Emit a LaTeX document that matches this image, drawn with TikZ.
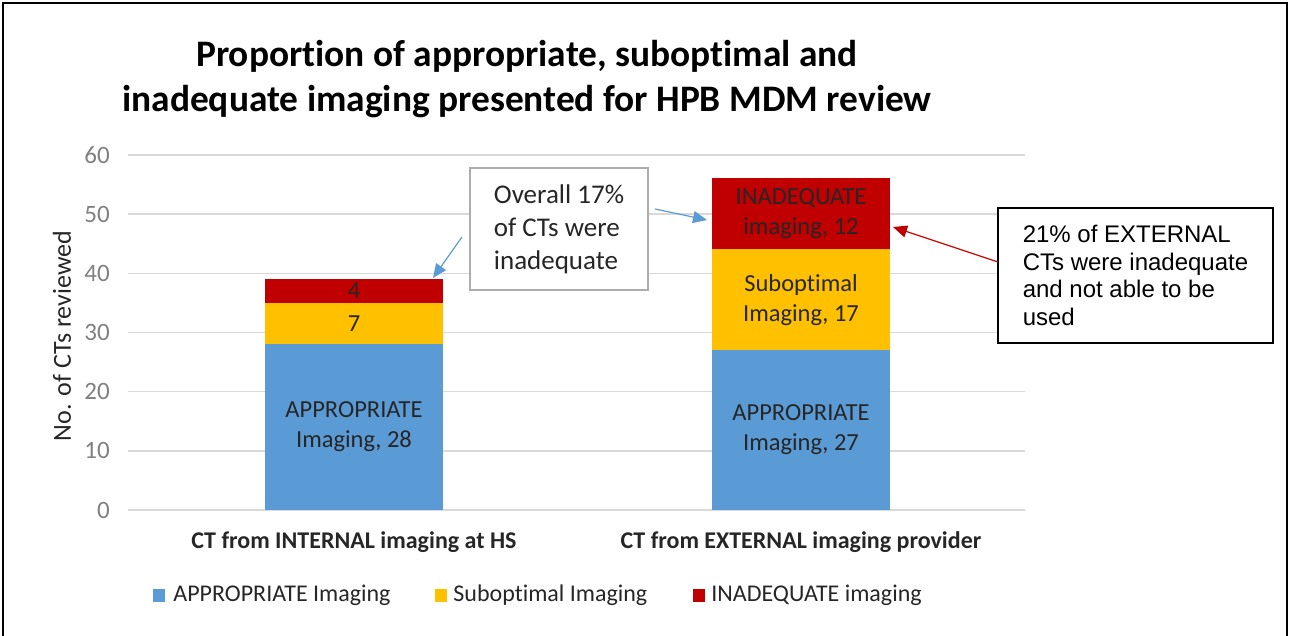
\documentclass[tikz,border=0pt]{standalone}
\usepackage{fontspec}
\setmainfont{Carlito}[Ligatures=NoCommon]
\newfontfamily\arialfont{Liberation Sans}
\usetikzlibrary{arrows.meta, positioning}
\definecolor{appBlue}{HTML}{5B9BD5}
\definecolor{subYellow}{HTML}{FFC000}
\definecolor{inaRed}{HTML}{C00000}
\definecolor{gridGray}{HTML}{D9D9D9}
\definecolor{tickGray}{HTML}{808080}
\definecolor{boxGray}{HTML}{ADADAD}
\definecolor{textDark}{HTML}{262626}
\tikzset{
    barSeg/.style={rectangle, inner sep=0pt, minimum width=178pt, anchor=south},
    segLabel/.style={font=\fontsize{24.5}{30}\selectfont, text=textDark, align=center, inner sep=0pt},
    gridLine/.style={gridGray, line width=1.4pt},
    tickLabel/.style={font=\fontsize{25}{28}\selectfont, text=tickGray, anchor=east, inner sep=0pt},
    catLabel/.style={font=\bfseries\fontsize{24}{28}\selectfont, text=textDark, inner sep=0pt},
    legKey/.style={rectangle, inner sep=0pt, minimum width=12pt, minimum height=13pt},
    legText/.style={font=\fontsize{24}{28}\selectfont, text=textDark, inner sep=0pt},
    noteGray/.style={draw=boxGray, line width=1.8pt, fill=white, minimum width=178pt, minimum height=122pt, align=left, font=\fontsize{27}{33}\selectfont, text=textDark},
    noteBlack/.style={draw=black, line width=1.2pt, fill=white, minimum width=275pt, minimum height=135pt, align=left, font=\arialfont\fontsize{24}{27.5}\selectfont},
    blueArrow/.style={-{Triangle[length=14pt, width=12pt]}, appBlue, line width=1.2pt},
    redArrow/.style={-{Triangle[length=14pt, width=12pt]}, inaRed, line width=1.2pt},
}
\newcommand{\unitH}{5.917}
% one segment of a stacked bar: name, centre x, count below, count, colour
\newcommand{\drawSeg}[5]{
    \node[barSeg, fill=#5, minimum height={#4*\unitH*1pt}] (#1) at (#2, {510-#3*\unitH}) {};
}

\begin{document}
\begin{tikzpicture}[x=1pt, y=-1pt]
    \useasboundingbox (0,0) rectangle (1290,635);
    \draw[line width=2pt] (3,640) -- (3,3) -- (1287,3) -- (1287,640);

    % title
    \node[font=\bfseries\fontsize{37.4}{45}\selectfont, align=center] (title) at (527,79) {Proportion of appropriate, suboptimal and\\inadequate imaging presented for HPB MDM review};

    % grid and ticks
    \foreach \v [evaluate=\v as \yy using 510-\v*59.17, evaluate=\v as \lab using int(\v*10)] in {0,...,6} {
        \draw[gridLine] (128,\yy) -- (1025,\yy);
        \node[tickLabel] (tick\v) at (110,\yy) {\lab};
    }
    \node[rotate=90, font=\fontsize{26}{30}\selectfont, text=textDark] (yTitle) at (62,336) {No. of CTs reviewed};

    % bars
    \drawSeg{intApp}{354}{0}{28}{appBlue}
    \drawSeg{intSub}{354}{28}{7}{subYellow}
    \drawSeg{intIna}{354}{35}{4}{inaRed}
    \drawSeg{extApp}{801}{0}{27}{appBlue}
    \drawSeg{extSub}{801}{27}{17}{subYellow}
    \drawSeg{extIna}{801}{44}{12}{inaRed}

    \node[segLabel] (intAppText) at (intApp.center) {APPROPRIATE\\Imaging, 28};
    \node[segLabel] (intSubText) at (intSub.center) {7};
    \node[segLabel] (intInaText) at (intIna.center) {4};
    \node[segLabel] (extAppText) at (extApp.center) {APPROPRIATE\\Imaging, 27};
    \node[segLabel] (extSubText) at (extSub.center) {Suboptimal\\Imaging, 17};
    \node[segLabel] (extInaText) at (extIna.center) {INADEQUATE\\imaging, 12};

    \node[catLabel] (intCat) at (354,542) {CT from INTERNAL imaging at HS};
    \node[catLabel] (extCat) at (801,542) {CT from EXTERNAL imaging provider};

    % legend
    \node[legKey, fill=appBlue] (keyApp) at (159,595) {};
    \node[legText, right=8pt of keyApp] (legApp) {APPROPRIATE Imaging};
    \node[legKey, fill=subYellow] (keySub) at (441,595) {};
    \node[legText, right=6pt of keySub] (legSub) {Suboptimal Imaging};
    \node[legKey, fill=inaRed] (keyIna) at (699,595) {};
    \node[legText, right=6pt of keyIna] (legIna) {INADEQUATE imaging};

    % call-outs
    \node[noteGray] (noteAll) at (559,229) {Overall 17\%\\of CTs were\\inadequate};
    \node[noteBlack] (noteExt) at (1135.5,275.5) {21\% of EXTERNAL\\CTs were inadequate\\and not able to be\\used};

    \coordinate (allOutL) at (462,237);
    \coordinate (allOutR) at (655,209);
    \coordinate (intTip) at (433,278);
    \coordinate (extTipL) at (707,220);
    \coordinate (extOut) at (998,262);
    \coordinate (extTipR) at (893,227);
    \draw[blueArrow] (allOutL) -- (intTip);
    \draw[blueArrow] (allOutR) -- (extTipL);
    \draw[redArrow] (extOut) -- (extTipR);
\end{tikzpicture}
\end{document}
